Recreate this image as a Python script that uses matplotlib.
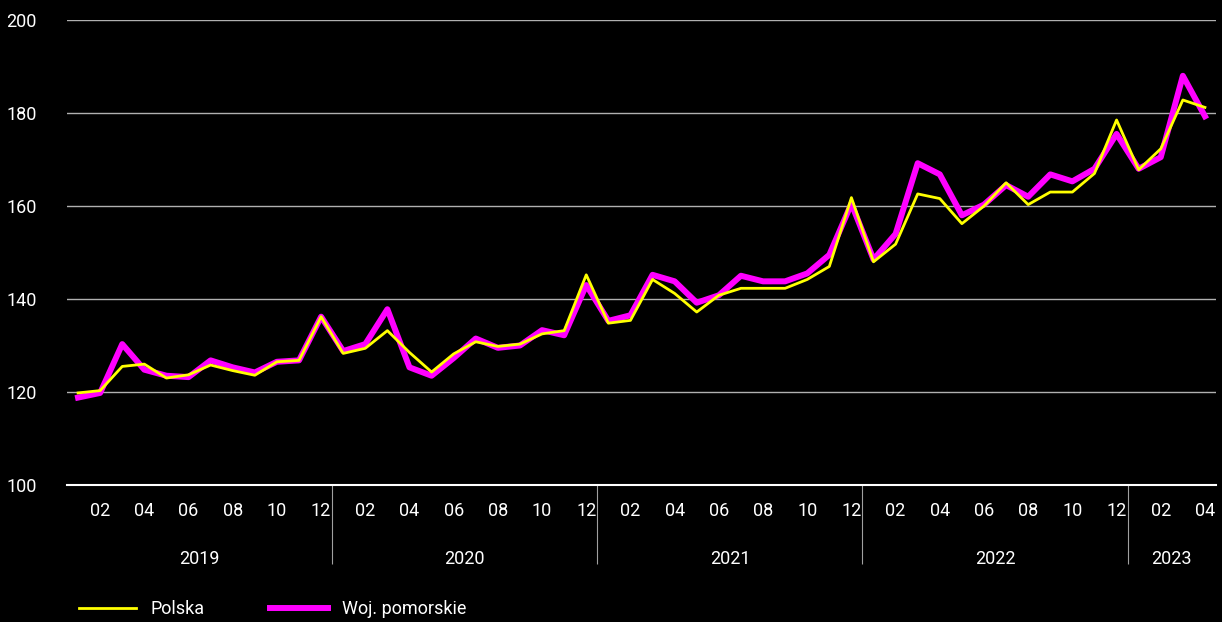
import matplotlib.pyplot as plt
import numpy as np

# dane: indeks miesięczny 2019-01 .. 2023-04
months = np.arange(52)
polska = [119.8, 120.3, 125.5, 126.0, 123.0, 123.7, 125.8, 124.6, 123.6, 126.5, 126.8, 136.2,
          128.3, 129.4, 133.2, 128.5, 124.3, 128.2, 130.8, 129.8, 130.3, 132.5, 133.2, 145.2,
          134.8, 135.4, 144.2, 141.2, 137.2, 140.8, 142.3, 142.3, 142.3, 144.2, 147.0, 161.8,
          148.0, 151.8, 162.6, 161.6, 156.2, 160.0, 165.0, 160.3, 163.0, 163.0, 167.0, 178.5,
          167.8, 172.3, 182.8, 181.2]
pomorskie = [118.8, 119.8, 130.3, 124.8, 123.5, 123.2, 126.8, 125.3, 124.2, 126.5, 126.8, 136.2,
             128.8, 130.3, 137.8, 125.3, 123.5, 127.3, 131.5, 129.5, 130.0, 133.3, 132.2, 143.0,
             135.3, 136.5, 145.2, 143.8, 139.2, 140.8, 145.0, 143.8, 143.8, 145.5, 149.5, 160.5,
             148.5, 154.0, 169.2, 166.8, 158.0, 160.3, 164.5, 162.0, 166.8, 165.3, 168.0, 175.5,
             168.0, 170.5, 188.0, 179.3]
years = ['2019', '2020', '2021', '2022', '2023']
year_centers = [5.5, 17.5, 29.5, 41.5, 49.5]
year_breaks = [11.5, 23.5, 35.5, 47.5]
month_ticks = [m for m in months if m % 2 == 1]
month_labels = ['%02d' % (m % 12 + 1) for m in month_ticks]

plt.rcParams['font.family'] = ['Roboto', 'DejaVu Sans']
fig = plt.figure(figsize=(12.22, 6.22), dpi=100, facecolor='black')
ax = fig.add_axes([67 / 1222, 1 - 485 / 622, (1216 - 67) / 1222, 465 / 622])
ax.set_facecolor('black')

ax.plot(months, pomorskie, color='#ff00ff', lw=4.3, label='Woj. pomorskie', solid_joinstyle='round')
ax.plot(months, polska, color='#ffff00', lw=2, label='Polska')

ax.set_xlim(-0.5, 51.5)
ax.set_ylim(100, 200)
ax.set_yticks(np.arange(100, 201, 20))
ax.grid(axis='y', color='#b0b0b0', lw=1)
ax.set_axisbelow(True)
for s in ['top', 'right', 'left']:
    ax.spines[s].set_visible(False)
ax.spines['bottom'].set_color('white')
ax.spines['bottom'].set_linewidth(1.5)

ax.tick_params(axis='y', length=0, pad=22, labelcolor='white', labelsize=13)
ax.set_xticks(month_ticks)
ax.set_xticklabels(month_labels)
ax.tick_params(axis='x', length=0, pad=12, labelcolor='white', labelsize=13)

# separatory lat
sep = ax.secondary_xaxis('bottom')
sep.set_xticks(year_breaks)
sep.set_xticklabels([''] * len(year_breaks))
sep.tick_params(axis='x', length=57, width=0.8, color='#a0a0a0')
sep.spines['bottom'].set_visible(False)

# etykiety lat
yr = ax.secondary_xaxis(-0.129)
yr.set_xticks(year_centers)
yr.set_xticklabels(years)
yr.tick_params(axis='x', length=0, labelcolor='white', labelsize=13)
yr.spines['bottom'].set_visible(False)

h, l = ax.get_legend_handles_labels()
leg = fig.legend([h[1], h[0]], [l[1], l[0]], loc='lower left', bbox_to_anchor=(0.051, -0.02),
                 ncol=2, frameon=False, fontsize=13, labelcolor='white', handlelength=3.2,
                 columnspacing=3.6)

plt.savefig('out.png', dpi=100, facecolor='black')
